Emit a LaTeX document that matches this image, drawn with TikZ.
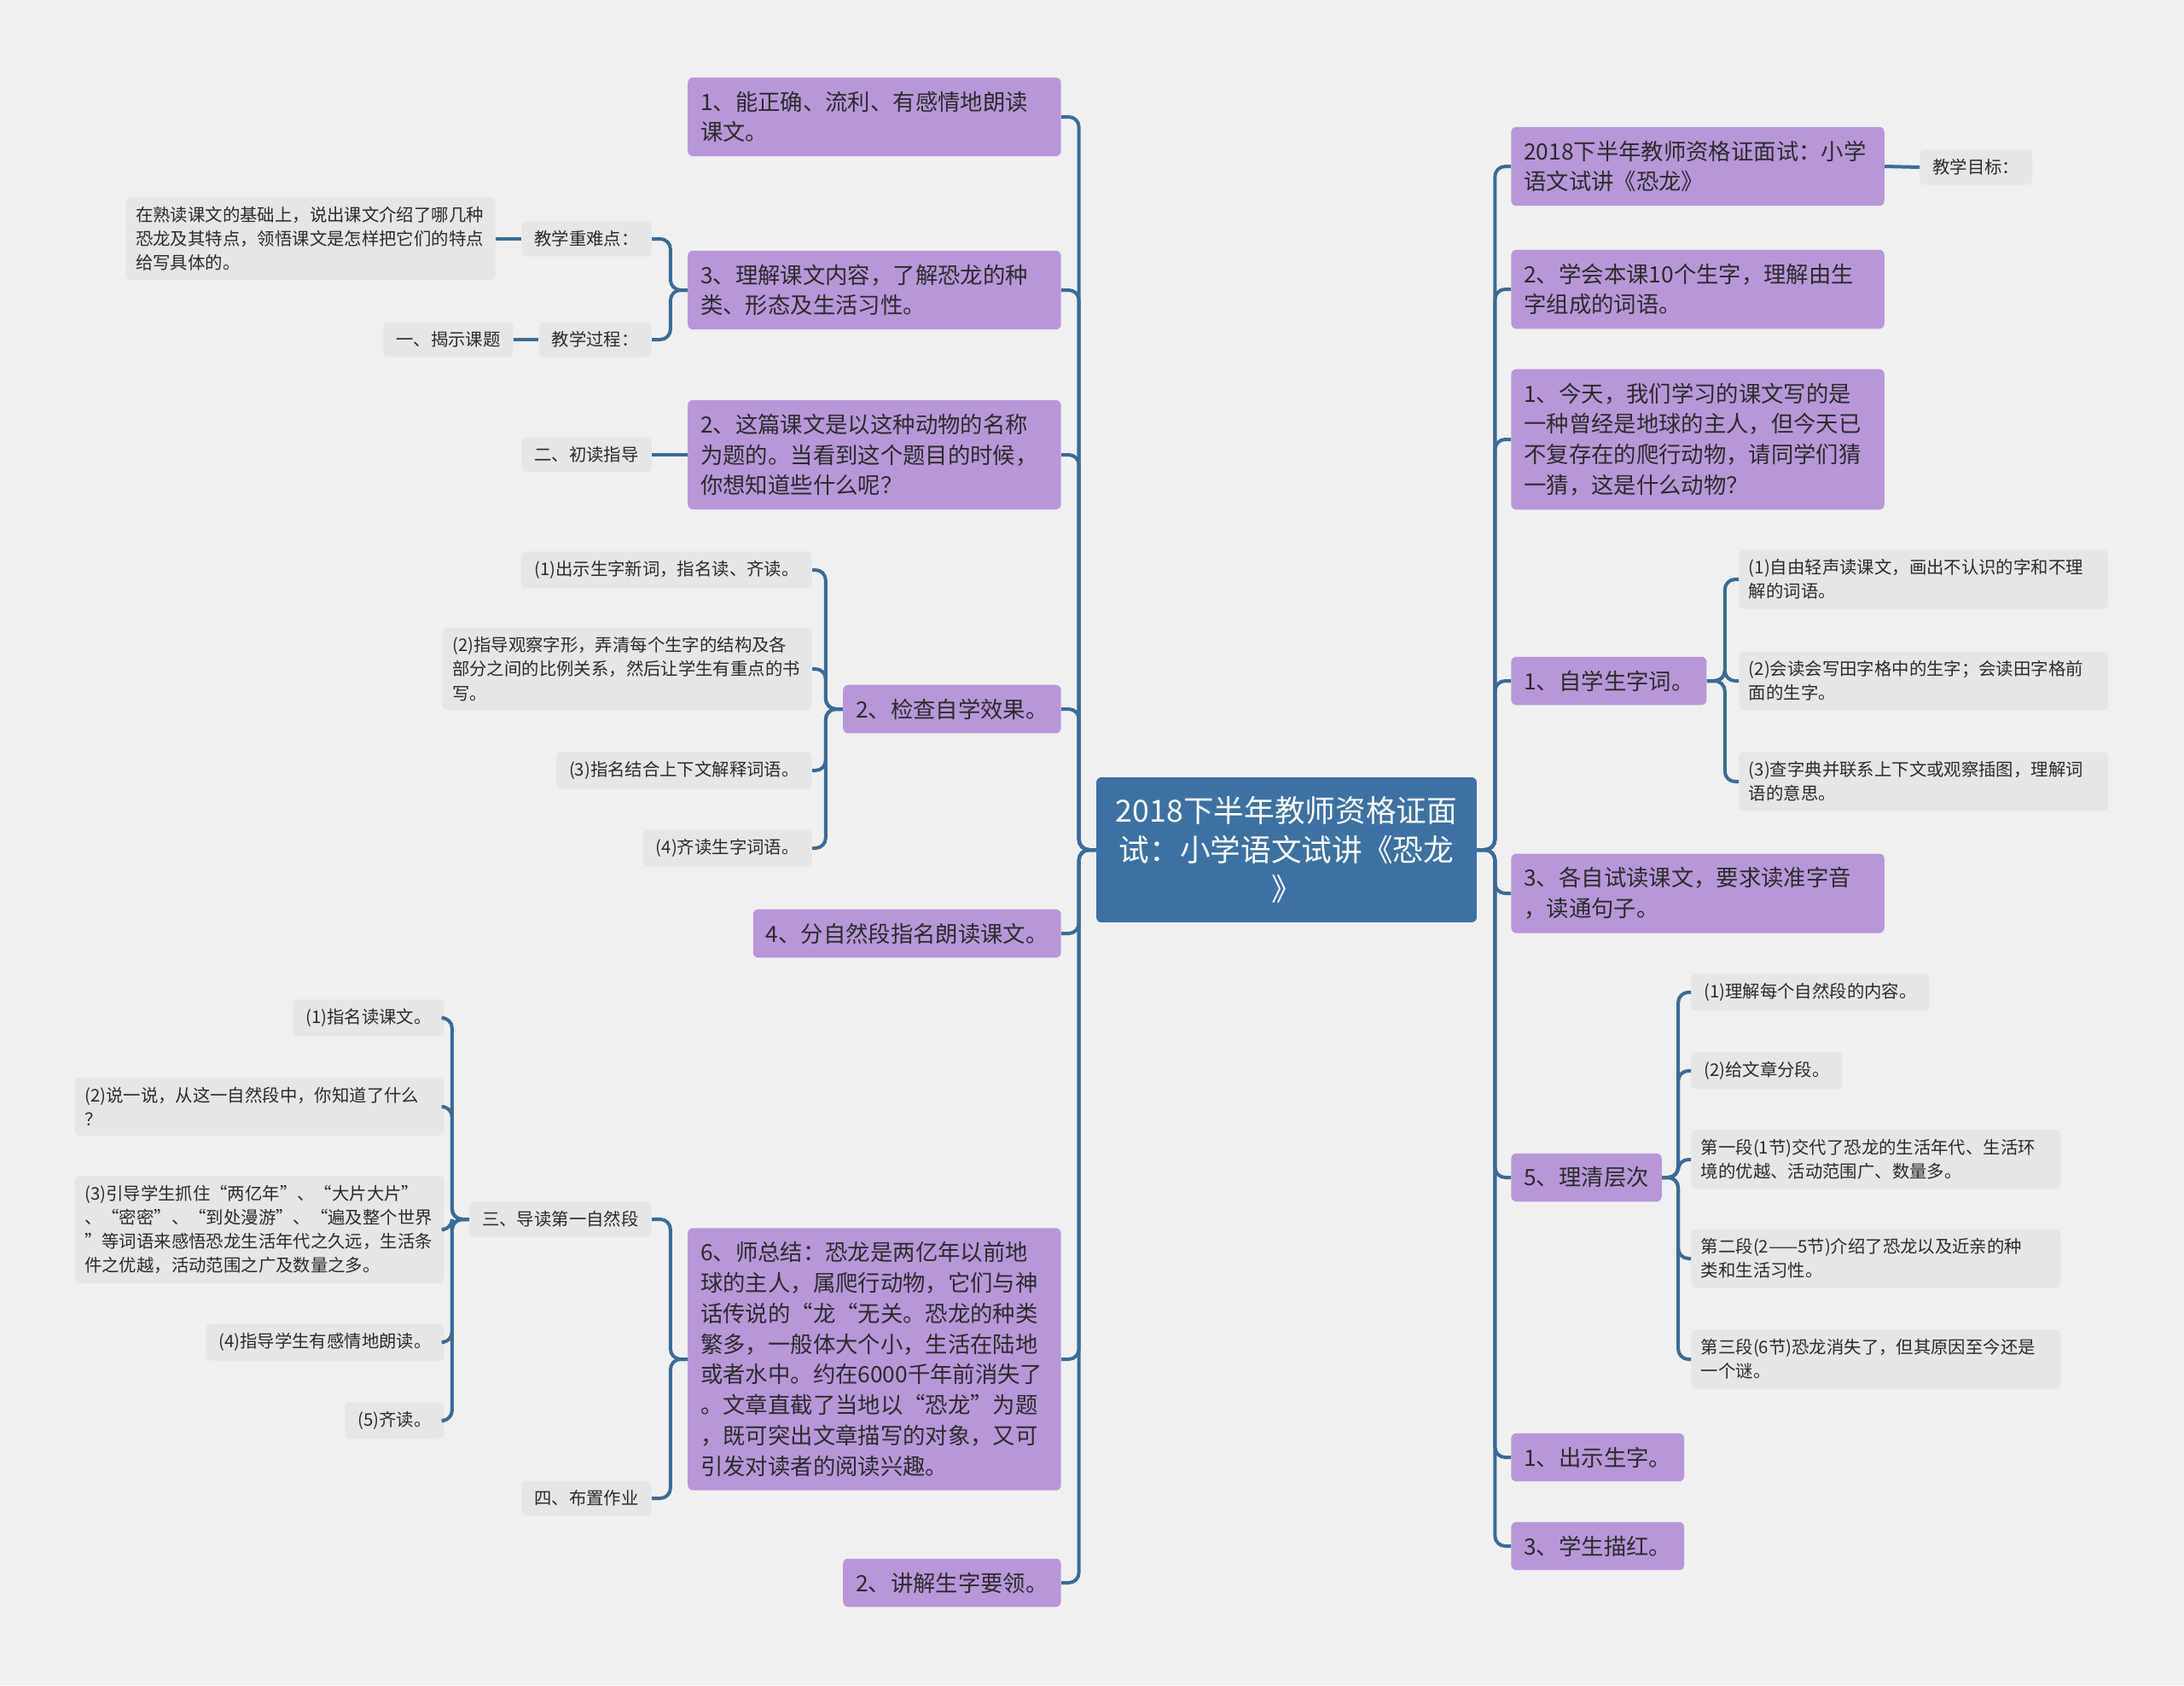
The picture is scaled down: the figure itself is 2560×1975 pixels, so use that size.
\documentclass[tikz,border=0pt]{standalone}
\usepackage{fontspec}
\setmainfont{Noto Sans CJK SC}
\definecolor{bgcol}{HTML}{F0F0F0}
\definecolor{rootblue}{HTML}{3D71A3}
\definecolor{topicpurple}{HTML}{B897D9}
\definecolor{leafgrey}{HTML}{E6E6E6}
\definecolor{linkblue}{HTML}{3A6B97}
\definecolor{textdark}{HTML}{2B2B2B}
\tikzset{
  root/.style={fill=rootblue,text=white,rounded corners=0.12cm,font=\fontsize{20.3}{26.4}\selectfont,align=center,minimum width=8.92cm,inner ysep=0.44cm},
  topic/.style={fill=topicpurple,text=textdark,rounded corners=0.12cm,font=\fontsize{15}{20.4}\selectfont,align=left,inner xsep=0.3cm,inner ysep=0.32cm},
  topicwide/.style={topic,text width=8.15cm},
  leaf/.style={fill=leafgrey,text=textdark,rounded corners=0.12cm,font=\fontsize{11.6}{16}\selectfont,align=left,inner xsep=0.3cm,inner ysep=0.22cm},
  leafwide/.style={leaf,inner xsep=0.23cm,text width=8.2cm},
  link/.style={draw=linkblue,line width=0.08cm,rounded corners=0.24cm},
}
\begin{document}
\begin{tikzpicture}[x=0.02cm,y=-0.02cm]
  \fill[bgcol] (0,0) rectangle (2560,1975);
  \useasboundingbox (0,0) rectangle (2560,1975);
  \node[root] (root) at (1508,996) {2018下半年教师资格证面\\试：小学语文试讲《恐龙\\》};
  % left branch
  \node[topicwide,anchor=east] (t1) at (1244,137) {1、能正确、流利、有感情地朗读\\课文。};
  \node[topicwide,anchor=east] (t3) at (1244,340) {3、理解课文内容，了解恐龙的种\\类、形态及生活习性。};
  \node[topicwide,anchor=east] (t2) at (1244,533) {2、这篇课文是以这种动物的名称\\为题的。当看到这个题目的时候，\\你想知道些什么呢？};
  \node[topic,anchor=east] (chk) at (1244,831) {2、检查自学效果。};
  \node[topic,anchor=east] (para) at (1244,1094) {4、分自然段指名朗读课文。};
  \node[topicwide,anchor=east] (sum) at (1244,1593) {6、师总结：恐龙是两亿年以前地\\球的主人，属爬行动物，它们与神\\话传说的“龙“无关。恐龙的种类\\繁多，一般体大个小，生活在陆地\\或者水中。约在6000千年前消失了\\。文章直截了当地以“恐龙”为题\\，既可突出文章描写的对象，又可\\引发对读者的阅读兴趣。};
  \node[topic,anchor=east] (expl) at (1244,1855) {2、讲解生字要领。};
  \node[leaf,anchor=east] (keypt) at (764,280) {教学重难点：};
  \node[leafwide,anchor=east] (keytext) at (581,280) {在熟读课文的基础上，说出课文介绍了哪几种\\恐龙及其特点，领悟课文是怎样把它们的特点\\给写具体的。};
  \node[leaf,anchor=east] (process) at (764,398) {教学过程：};
  \node[leaf,anchor=east] (reveal) at (602,398) {一、揭示课题};
  \node[leaf,anchor=east] (firstread) at (764,533) {二、初读指导};
  \node[leaf,anchor=east] (chk1) at (952,668) {(1)出示生字新词，指名读、齐读。};
  \node[leafwide,anchor=east] (chk2) at (952,784) {(2)指导观察字形，弄清每个生字的结构及各\\部分之间的比例关系，然后让学生有重点的书\\写。};
  \node[leaf,anchor=east] (chk3) at (952,903) {(3)指名结合上下文解释词语。};
  \node[leaf,anchor=east] (chk4) at (952,994) {(4)齐读生字词语。};
  \node[leaf,anchor=east] (guide) at (764,1429) {三、导读第一自然段};
  \node[leaf,anchor=east] (homework) at (764,1756) {四、布置作业};
  \node[leaf,anchor=east] (gd1) at (521,1193) {(1)指名读课文。};
  \node[leafwide,anchor=east] (gd2) at (521,1297) {(2)说一说，从这一自然段中，你知道了什么\\？};
  \node[leafwide,anchor=east] (gd3) at (521,1441) {(3)引导学生抓住“两亿年”、“大片大片”\\、“密密”、“到处漫游”、“遍及整个世界\\”等词语来感悟恐龙生活年代之久远，生活条\\件之优越，活动范围之广及数量之多。};
  \node[leaf,anchor=east] (gd4) at (521,1573) {(4)指导学生有感情地朗读。};
  \node[leaf,anchor=east] (gd5) at (521,1665) {(5)齐读。};
  % right branch
  \node[topicwide,anchor=west] (title) at (1771,195) {2018下半年教师资格证面试：小学\\语文试讲《恐龙》};
  \node[topicwide,anchor=west] (learn) at (1771,339) {2、学会本课10个生字，理解由生\\字组成的词语。};
  \node[topicwide,anchor=west] (guess) at (1771,515) {1、今天，我们学习的课文写的是\\一种曾经是地球的主人，但今天已\\不复存在的爬行动物，请同学们猜\\一猜，这是什么动物？};
  \node[topic,anchor=west] (self) at (1771,798) {1、自学生字词。};
  \node[topicwide,anchor=west] (tryread) at (1771,1047) {3、各自试读课文，要求读准字音\\，读通句子。};
  \node[topic,anchor=west] (layers) at (1771,1380) {5、理清层次};
  \node[topic,anchor=west] (show) at (1771,1708) {1、出示生字。};
  \node[topic,anchor=west] (trace) at (1771,1812) {3、学生描红。};
  \node[leaf,anchor=west] (goal) at (2250,196) {教学目标：};
  \node[leafwide,anchor=west] (self1) at (2038,679) {(1)自由轻声读课文，画出不认识的字和不理\\解的词语。};
  \node[leafwide,anchor=west] (self2) at (2038,798) {(2)会读会写田字格中的生字；会读田字格前\\面的生字。};
  \node[leafwide,anchor=west] (self3) at (2038,916) {(3)查字典并联系上下文或观察插图，理解词\\语的意思。};
  \node[leaf,anchor=west] (lay1) at (1982,1163) {(1)理解每个自然段的内容。};
  \node[leaf,anchor=west] (lay2) at (1982,1255) {(2)给文章分段。};
  \node[leafwide,anchor=west] (lay3) at (1982,1359) {第一段(1节)交代了恐龙的生活年代、生活环\\境的优越、活动范围广、数量多。};
  \node[leafwide,anchor=west] (lay4) at (1982,1475) {第二段(2——5节)介绍了恐龙以及近亲的种\\类和生活习性。};
  \node[leafwide,anchor=west] (lay5) at (1982,1593) {第三段(6节)恐龙消失了，但其原因至今还是\\一个谜。};
  % connectors
  \foreach \c in {t1,t3,t2,chk,para,sum,expl} \draw[link] (root.west) -- ++(-20,0) |- (\c.east);
  \foreach \c in {title,learn,guess,self,tryread,layers,show,trace} \draw[link] (root.east) -- ++(21,0) |- (\c.west);
  \foreach \c in {keypt,process} \draw[link] (t3.west) -- ++(-20,0) |- (\c.east);
  \foreach \c in {chk1,chk2,chk3,chk4} \draw[link] (chk.west) -- ++(-20,0) |- (\c.east);
  \foreach \c in {guide,homework} \draw[link] (sum.west) -- ++(-20,0) |- (\c.east);
  \foreach \c in {gd1,gd2,gd3,gd4,gd5} \draw[link] (guide.west) -- ++(-20,0) |- (\c.east);
  \foreach \c in {self1,self2,self3} \draw[link] (self.east) -- ++(21,0) |- (\c.west);
  \foreach \c in {lay1,lay2,lay3,lay4,lay5} \draw[link] (layers.east) -- ++(19,0) |- (\c.west);
  \draw[link] (keypt.west) -- (keytext.east);
  \draw[link] (process.west) -- (reveal.east);
  \draw[link] (t2.west) -- (firstread.east);
  \draw[link] (title.east) -- (goal.west);
\end{tikzpicture}
\end{document}
